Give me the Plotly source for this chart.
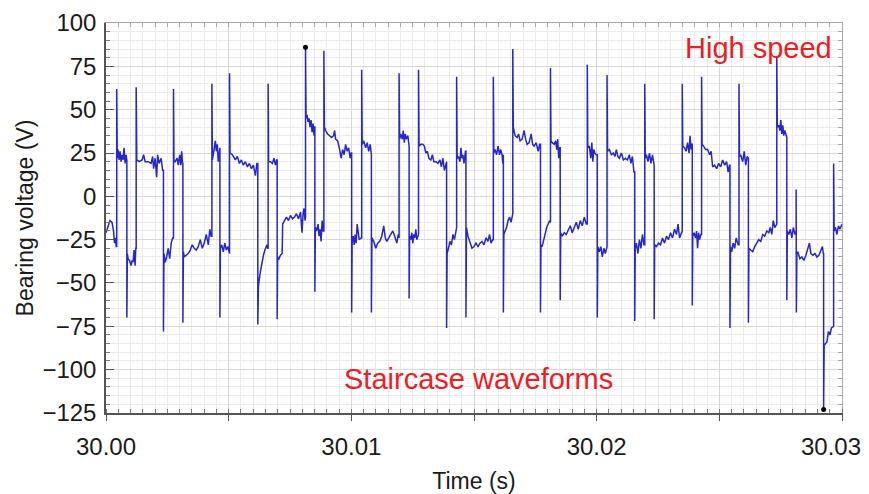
import plotly.graph_objects as go

# Time offsets after 30.000 s, in milliseconds, and bearing voltage (V)
t_ms = [
    0.000, 0.102, 0.163, 0.245, 0.307, 0.347, 0.388, 0.417,
    0.437, 0.437, 0.458,
    0.490, 0.531, 0.572, 0.613, 0.654, 0.695, 0.736, 0.777, 0.817, 0.838,
    0.850, 0.850, 0.871,
    0.899, 0.960, 1.022, 1.063, 1.103, 1.144, 1.185, 1.214,
    1.230, 1.230, 1.255,
    1.349, 1.471, 1.533, 1.594, 1.717, 1.839, 1.900, 1.941, 2.003, 2.064, 2.105, 2.166, 2.248, 2.309,
    2.342, 2.342, 2.362,
    2.411, 2.473, 2.534, 2.595, 2.657, 2.718,
    2.751, 2.751, 2.771,
    2.820, 2.902, 2.943, 3.004, 3.045, 3.086, 3.118,
    3.135, 3.135, 3.155,
    3.188, 3.270, 3.351, 3.433, 3.515, 3.597, 3.678, 3.760, 3.842, 3.924, 4.005, 4.087, 4.169, 4.230, 4.283,
    4.316, 4.316, 4.336,
    4.394, 4.455, 4.496, 4.537, 4.577, 4.618,
    4.643, 4.643, 4.663,
    4.720, 4.782, 4.843, 4.904, 4.966, 5.007,
    5.035, 5.035, 5.056,
    5.150, 5.272, 5.354, 5.436, 5.517, 5.599, 5.681, 5.763, 5.844, 5.926, 6.008, 6.090, 6.151,
    6.188, 6.188, 6.212,
    6.274, 6.335, 6.417, 6.478, 6.560, 6.588,
    6.609, 6.609, 6.629,
    6.703, 6.784, 6.846, 6.907, 6.956,
    6.977, 6.977, 6.997,
    7.050, 7.111, 7.181, 7.201, 7.275, 7.357, 7.438, 7.520, 7.602, 7.684, 7.765, 7.847, 7.929, 7.990, 8.031, 8.072, 8.113,
    8.133, 8.133, 8.154,
    8.195, 8.235, 8.276, 8.317, 8.358, 8.399, 8.440, 8.481, 8.501,
    8.513, 8.513, 8.534,
    8.583, 8.644, 8.685, 8.726, 8.767, 8.808, 8.849,
    8.881, 8.881, 8.902,
    8.951, 9.032, 9.114, 9.196, 9.277, 9.318, 9.359, 9.441, 9.523, 9.584, 9.645, 9.707, 9.768, 9.829, 9.891, 9.952, 9.993,
    10.013, 10.013, 10.033,
    10.074, 10.115, 10.156, 10.197, 10.238, 10.279, 10.320, 10.393,
    10.422, 10.422, 10.442,
    10.504, 10.585, 10.647, 10.708, 10.769, 10.802,
    10.818, 10.818, 10.839,
    10.912, 10.994, 11.076, 11.158, 11.239, 11.321, 11.382, 11.444, 11.525, 11.607, 11.689, 11.771, 11.852, 11.914,
    11.946, 11.946, 11.967,
    12.016, 12.077, 12.118, 12.159, 12.200, 12.240, 12.302, 12.334,
    12.355, 12.355, 12.375,
    12.424, 12.465, 12.506, 12.547, 12.588, 12.629, 12.670, 12.719,
    12.739, 12.739, 12.760,
    12.833, 12.915, 12.976, 13.037, 13.099, 13.160, 13.242, 13.303, 13.364, 13.446, 13.528, 13.610, 13.671, 13.732, 13.793, 13.855,
    13.883, 13.883, 13.904,
    13.957, 14.018, 14.080, 14.141, 14.202, 14.264,
    14.292, 14.292, 14.313,
    14.366, 14.427, 14.468, 14.509, 14.550, 14.591, 14.652,
    14.672, 14.672, 14.693,
    14.754, 14.836, 14.918, 14.999, 15.081, 15.163, 15.245, 15.326, 15.408, 15.490, 15.571, 15.633, 15.694, 15.756,
    15.788, 15.788, 15.809,
    15.858, 15.919, 15.980, 16.041, 16.082, 16.143, 16.176,
    16.197, 16.197, 16.217,
    16.266, 16.328, 16.389, 16.450, 16.511, 16.552,
    16.581, 16.581, 16.601,
    16.675, 16.757, 16.818, 16.879, 16.961, 17.043, 17.104, 17.165, 17.247, 17.329, 17.390, 17.451, 17.533, 17.615, 17.676,
    17.709, 17.709, 17.729,
    17.778, 17.840, 17.901, 17.962, 18.024, 18.085,
    18.117, 18.117, 18.138,
    18.187, 18.269, 18.330, 18.371, 18.412, 18.453, 18.494,
    18.514, 18.514, 18.535,
    18.596, 18.678, 18.759, 18.841, 18.923, 19.005, 19.086, 19.168, 19.250, 19.332, 19.413, 19.495, 19.577,
    19.618, 19.618, 19.638,
    19.699, 19.761, 19.802, 19.843, 19.883, 19.924, 19.985,
    20.026, 20.026, 20.047,
    20.108, 20.169, 20.231, 20.292, 20.353, 20.402,
    20.423, 20.423, 20.443,
    20.517, 20.599, 20.680, 20.742, 20.803, 20.864, 20.925, 21.007, 21.089, 21.171, 21.252, 21.334, 21.395, 21.457, 21.518,
    21.551, 21.551, 21.571,
    21.620, 21.682, 21.743, 21.804, 21.866, 21.927,
    21.960, 21.960, 21.980,
    22.029, 22.091, 22.152, 22.213, 22.274, 22.323,
    22.344, 22.344, 22.364,
    22.438, 22.520, 22.601, 22.683, 22.765, 22.847, 22.928, 23.010, 23.092, 23.174, 23.255, 23.317, 23.378, 23.460,
    23.488, 23.488, 23.509,
    23.582, 23.644, 23.705, 23.766, 23.807, 23.848, 23.876,
    23.897, 23.897, 23.917,
    23.970, 24.032, 24.072, 24.113, 24.154, 24.195, 24.248,
    24.277, 24.277, 24.297,
    24.358, 24.440, 24.522, 24.604, 24.665, 24.726, 24.808, 24.890, 24.971, 25.053, 25.135, 25.217, 25.298, 25.360, 25.413,
    25.433, 25.433, 25.454,
    25.503, 25.564, 25.625, 25.687, 25.768,
    25.801, 25.801, 25.822,
    25.871, 25.952, 26.014, 26.075, 26.136, 26.165,
    26.185, 26.185, 26.206,
    26.279, 26.361, 26.443, 26.525, 26.606, 26.688, 26.770, 26.852, 26.933, 27.015, 27.076, 27.138, 27.199, 27.260, 27.322,
    27.342, 27.342, 27.362,
    27.424, 27.465, 27.505, 27.546, 27.587, 27.628, 27.669, 27.730,
    27.751, 27.751, 27.771,
    27.833, 27.894, 27.955, 28.017, 28.078, 28.119,
    28.131, 28.131, 28.139, 28.160,
    28.201, 28.283, 28.364, 28.446, 28.528, 28.610, 28.671, 28.732, 28.814, 28.896, 28.977, 29.059, 29.141, 29.202, 29.239,
    29.251, 29.251, 29.272,
    29.325, 29.386, 29.447, 29.508, 29.569, 29.639,
    29.659, 29.659, 29.680,
    29.733, 29.794, 29.856, 29.917, 30.000,
]

volts = [
    -21, -16, -14, -15, -20, -27, -24, -29,
    -29, 62, 22,
    27, 21, 26, 20, 24, 21, 28, 19, 24, 21,
    21, -70, -33,
    -36, -37, -40, -37, -38, -31, -40, -30,
    -30, 63, 21,
    20, 21, 24, 20, 20, 19, 23, 16, 22, 11, 24, 19, 22, 15,
    15, -78, -33,
    -38, -35, -30, -36, -27, -24,
    -24, 62, 20,
    20, 22, 18, 24, 18, 26, 19,
    19, -73, -32,
    -35, -34, -33, -31, -28, -30, -31, -29, -25, -30, -27, -22, -28, -19, -23,
    -23, 65, 21,
    26, 32, 26, 30, 20, 28,
    28, -70, -30,
    -28, -32, -27, -31, -29, -33,
    -33, 71, 25,
    24, 21, 23, 19, 21, 18, 20, 17, 19, 16, 18, 12, 19,
    19, -74, -52,
    -45, -40, -34, -31, -28, -30,
    -30, 65, 20,
    20, 19, 22, 18, 21,
    21, -71, -35,
    -36, -34, -33, -16, -14, -12, -14, -11, -13, -12, -10, -13, -9, -21, -10, -7, -14,
    -12, 86, 45,
    47, 43, 45, 40, 44, 37, 42, 35, 40,
    40, -55, -18,
    -20, -16, -23, -19, -26, -14, -20,
    -20, 84, 40,
    38, 36, 35, 34, 35, 38, 33, 32, 27, 22, 27, 24, 30, 26, 28, 22, 25,
    25, -67, -26,
    -23, -28, -22, -27, -16, -21, -25, -24,
    -24, 73, 30,
    32, 28, 31, 26, 30, 24,
    24, -67, -24,
    -26, -30, -27, -26, -23, -17, -24, -26, -24, -22, -20, -23, -27, -22,
    -24, 71, 33,
    36, 33, 38, 31, 36, 33, 35, 29,
    29, -59, -23,
    -25, -21, -27, -22, -24, -19, -25, -22,
    -22, 73, 29,
    30, 30, 29, 25, 26, 22, 21, 24, 20, 20, 19, 21, 17, 22, 15, 20,
    20, -76, -33,
    -30, -26, -28, -22, -25, -18,
    -18, 69, 22,
    23, 20, 28, 22, 24, 19, 26,
    26, -70, -18,
    -23, -27, -30, -29, -27, -29, -27, -26, -28, -24, -26, -22, -27, -25,
    -25, 69, 25,
    27, 24, 29, 24, 27, 24, 19,
    24, -67, -22,
    -20, -18, -14, -12, -15, -10,
    -10, 85, 40,
    35, 34, 36, 32, 33, 38, 33, 30, 31, 36, 30, 29, 31, 26, 30,
    30, -67, -28,
    -29, -25, -22, -18, -16, -14,
    -15, 74, 32,
    31, 30, 32, 27, 33, 22, 28,
    28, -60, -21,
    -23, -21, -22, -19, -17, -21, -18, -15, -19, -14, -17, -12, -16,
    -16, 76, 28,
    29, 22, 31, 20, 27, 25, 24,
    24, -70, -29,
    -32, -29, -35, -30, -33, -29,
    -29, 70, 26,
    27, 24, 25, 23, 27, 23, 22, 25, 21, 22, 21, 24, 19, 23, 14,
    14, -72, -30,
    -27, -33, -25, -30, -22, -28,
    -28, 65, 22,
    24, 20, 25, 19, 24, 18,
    18, -71, -28,
    -29, -27, -28, -24, -27, -23, -25, -21, -24, -19, -22, -16, -24, -20,
    -20, 65, 29,
    28, 26, 31, 25, 35, 27, 30,
    30, -63, -23,
    -21, -24, -20, -30, -21, -25, -22,
    -22, 69, 30,
    29, 27, 27, 24, 26, 17, 18, 16, 19, 17, 21, 18, 20, 14, 18,
    18, -76, -29,
    -32, -27, -30, -24, -28,
    -28, 65, 23,
    24, 20, 26, 18, 23, 22,
    22, -73, -30,
    -31, -32, -29, -27, -25, -26, -22, -23, -20, -21, -18, -22, -14, -18, -16,
    -16, 81, 40,
    41, 38, 44, 36, 41, 35, 38, 34,
    34, -60, -20,
    -22, -19, -24, -18, -22, -20,
    -20, 4, -67, -33,
    -32, -36, -35, -37, -34, -30, -27, -33, -34, -33, -35, -34, -31, -29, -33,
    -33, -123, -86,
    -85, -84, -78, -80, -76, -75,
    -75, 19, -20,
    -18, -22, -17, -19, -16,
]

# Marked extreme points
extreme_ms = [8.133, 29.251]
extreme_v = [86, -123]

# Axis ticks; the end label (30.03) is placed as an annotation so it stays on the page
x_tick_vals = [30.000, 30.005, 30.010, 30.015, 30.020, 30.025, 30.030]
x_tick_text = ["30.00", "", "30.01", "", "30.02", "", ""]
x_end_label = "30.03"
y_tick_vals = [100, 75, 50, 25, 0, -25, -50, -75, -100, -125]

time_s = [30 + m / 1000 for m in t_ms]
extreme_s = [30 + m / 1000 for m in extreme_ms]

X_RANGE = [30.0 - 1e-7, 30.03 + 1e-7]
Y_RANGE = [-125.05, 100.05]
FONT = "Liberation Sans, Arial, Helvetica, sans-serif"

fig = go.Figure()
fig.add_trace(go.Scatter(
    x=time_s, y=volts, mode="lines",
    line=dict(color="#2626cc", width=1.5),
    showlegend=False, hoverinfo="skip",
))
fig.add_trace(go.Scatter(
    x=extreme_s, y=extreme_v, mode="markers",
    marker=dict(color="black", size=5),
    showlegend=False, hoverinfo="skip",
))
# helper trace for the mirrored top/right frame axes
fig.add_trace(go.Scatter(
    x=[30.0], y=[0], xaxis="x2", yaxis="y2", mode="markers",
    marker=dict(opacity=0), showlegend=False, hoverinfo="skip",
))

# The page body has an 8px default margin, so the figure is sized to fit
fig.update_layout(
    width=861, height=486,
    margin=dict(l=98, r=27, t=15, b=81, autoexpand=False),
    paper_bgcolor="white", plot_bgcolor="white",
    font=dict(family=FONT, size=24, color="#1a1a1a"),
    xaxis=dict(
        range=X_RANGE, tickmode="array", tickvals=x_tick_vals, ticktext=x_tick_text,
        automargin=False,
        ticks="outside", ticklen=6, tickwidth=1, tickcolor="#555",
        showline=True, linecolor="#555", linewidth=1.5,
        showgrid=True, gridcolor="#d8d8d8", gridwidth=0.8, zeroline=False,
        minor=dict(tickmode="linear", tick0=30.0, dtick=0.0005, ticks="inside", ticklen=4,
                   tickcolor="#777", showgrid=True, gridcolor="#ececec", gridwidth=0.6),
        tickfont=dict(size=24, family=FONT, color="#1a1a1a"),
        ticklabelstandoff=5,
        title=dict(text="Time (s)", font=dict(size=23, family=FONT), standoff=14),
    ),
    yaxis=dict(
        range=Y_RANGE, tickmode="array", tickvals=y_tick_vals,
        automargin=False,
        ticks="inside", ticklen=8, tickwidth=1, tickcolor="#555",
        showline=True, linecolor="#555", linewidth=1.5,
        showgrid=True, gridcolor="#d8d8d8", gridwidth=0.8, zeroline=False,
        minor=dict(tickmode="linear", tick0=0, dtick=5, ticks="inside", ticklen=4,
                   tickcolor="#777", showgrid=True, gridcolor="#ececec", gridwidth=0.6),
        tickfont=dict(size=24, family=FONT, color="#1a1a1a"),
        ticklabelstandoff=3,
        title=dict(text="Bearing voltage (V)", font=dict(size=23, family=FONT), standoff=2),
    ),
    xaxis2=dict(
        range=X_RANGE, overlaying="x", side="top", anchor="y",
        showline=True, linecolor="#aaaaaa", linewidth=1,
        ticks="inside", ticklen=4, tickcolor="#aaaaaa", tickmode="linear", tick0=30.0, dtick=0.0005,
        showticklabels=False, showgrid=False, zeroline=False, automargin=False,
    ),
    yaxis2=dict(
        range=Y_RANGE, overlaying="y", side="right", anchor="x",
        showline=True, linecolor="#aaaaaa", linewidth=1,
        ticks="inside", ticklen=4, tickcolor="#aaaaaa", tickmode="linear", tick0=0, dtick=5,
        showticklabels=False, showgrid=False, zeroline=False, automargin=False,
    ),
    shapes=[dict(
        type="rect", xref="paper", yref="paper",
        x0=0.236, x1=0.710, y0=0.033, y1=0.153,
        fillcolor="white", line=dict(width=0), layer="between",
    )],
    annotations=[
        dict(text="High speed", xref="paper", yref="paper", x=0.886, y=0.936,
             xanchor="center", yanchor="middle", showarrow=False,
             font=dict(size=29, color="#ee1c24", family=FONT)),
        dict(text="Staircase waveforms", xref="paper", yref="paper", x=0.506, y=0.087,
             xanchor="center", yanchor="middle", showarrow=False,
             font=dict(size=29, color="#ee1c24", family=FONT)),
        dict(text=x_end_label, xref="paper", yref="paper", x=1.0, y=0.0,
             xanchor="right", yanchor="middle", xshift=20, yshift=-33,
             showarrow=False, borderpad=0,
             font=dict(size=24, color="#1a1a1a", family=FONT)),
    ],
)

fig.write_html("out.html")
